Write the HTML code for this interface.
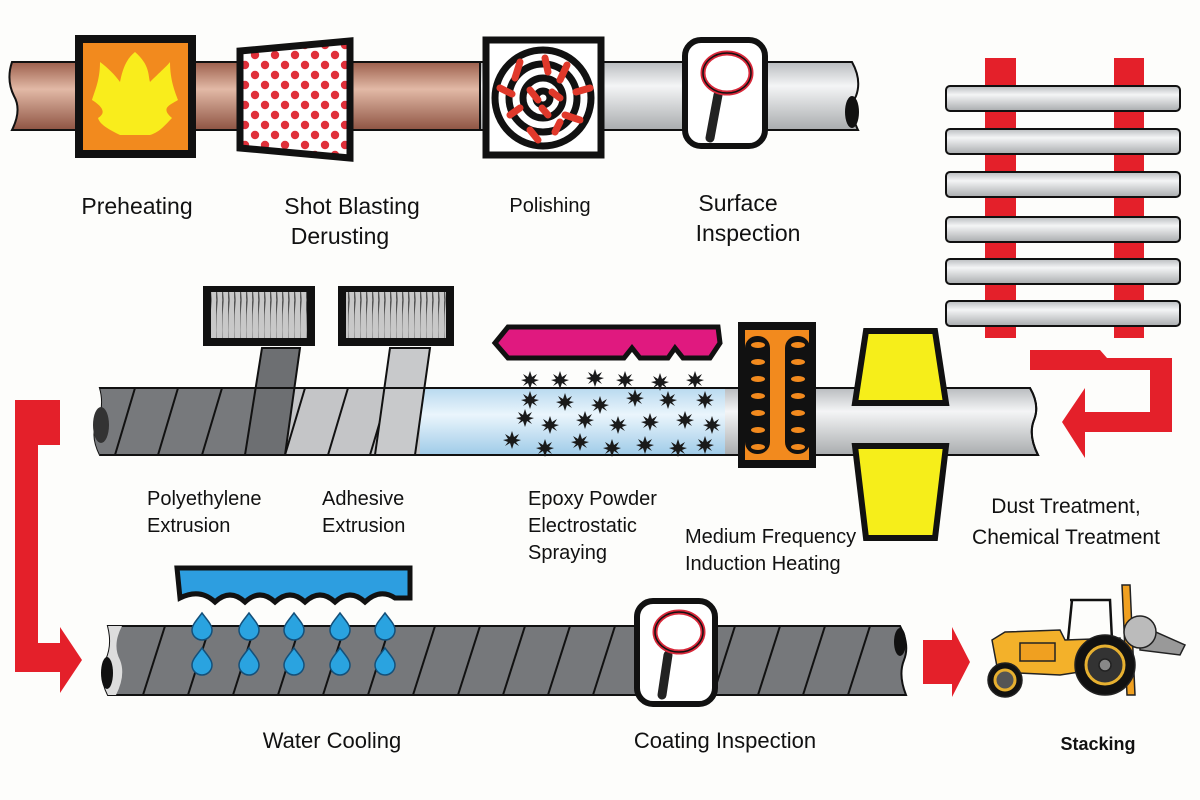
<!DOCTYPE html>
<html><head><meta charset="utf-8"><style>
html,body{margin:0;padding:0;background:#fdfdfb}
svg{display:block}
text{font-family:"Liberation Sans",sans-serif;fill:#111}
</style></head><body>
<svg width="1200" height="800" viewBox="0 0 1200 800" xmlns="http://www.w3.org/2000/svg">
<defs>
<linearGradient id="brown" x1="0" y1="0" x2="0" y2="1"><stop offset="0" stop-color="#9c5f4c"/><stop offset="0.4" stop-color="#e2b9a6"/><stop offset="1" stop-color="#8e5443"/></linearGradient>
<linearGradient id="silver" x1="0" y1="0" x2="0" y2="1"><stop offset="0" stop-color="#b9bcbf"/><stop offset="0.35" stop-color="#f4f5f6"/><stop offset="1" stop-color="#a9acae"/></linearGradient>
<linearGradient id="blue" x1="0" y1="0" x2="0" y2="1"><stop offset="0" stop-color="#b8d9ef"/><stop offset="0.4" stop-color="#eaf5fc"/><stop offset="1" stop-color="#9fcbe8"/></linearGradient>
<pattern id="dots" width="20" height="20" patternUnits="userSpaceOnUse"><rect width="20" height="20" fill="#fff"/><circle cx="5" cy="5" r="4.2" fill="#e0303a"/><circle cx="15" cy="15" r="4.2" fill="#e0303a"/></pattern>
<pattern id="coil" width="6" height="60" patternUnits="userSpaceOnUse"><rect width="6" height="60" fill="#c8c8c8"/><path d="M1 0 Q-2 30 1 60" stroke="#555" stroke-width="1.5" fill="none"/></pattern>
<g id="star"><polygon points="0,-9 2,-3 7,-6 4,-1 9,0 4,2 7,6 2,3 0,9 -2,3 -7,6 -4,2 -9,0 -4,-1 -7,-6 -2,-3" fill="#1a1a1a"/></g>
<g id="drop"><path d="M0,-12 C6,-4 10,0 10,5 A10 10 0 0 1 -10 5 C-10 0 -6,-4 0,-12Z" fill="#2aa3e0" stroke="#14507a" stroke-width="1.5"/></g>
</defs>

<!-- TOP PIPE -->
<path d="M12,62 L480,62 L480,130 L12,130 Q22,110 14,96 Q6,80 12,62Z" fill="url(#brown)" stroke="#111" stroke-width="2"/>
<path d="M480,62 L852,62 Q862,80 856,96 Q848,110 858,130 L480,130Z" fill="url(#silver)" stroke="#111" stroke-width="2"/>
<ellipse cx="852" cy="112" rx="7" ry="16" fill="#111"/>
<!-- preheat -->
<rect x="79" y="39" width="113" height="115" fill="#f28a1e" stroke="#111" stroke-width="8"/>
<path d="M135,52 C150,65 148,75 150,82 C160,72 168,65 170,62 C170,80 175,92 178,100 C170,105 160,108 172,118 C165,125 160,132 150,135 L120,135 C110,130 100,125 98,118 C108,112 100,105 92,100 C95,90 100,80 100,62 C108,68 115,75 120,82 C122,72 125,60 135,52Z" fill="#f9ed1c"/>
<!-- shot blasting -->
<polygon points="240,51 350,41 350,158 240,148" fill="url(#dots)" stroke="#111" stroke-width="7"/>
<!-- polishing -->
<rect x="486" y="40" width="115" height="115" fill="#fff" stroke="#111" stroke-width="7"/>
<g fill="none" stroke="#111" stroke-width="7"><circle cx="543" cy="98" r="48"/><circle cx="543" cy="98" r="34"/><circle cx="543" cy="98" r="20"/><circle cx="543" cy="98" r="7"/></g>
<g stroke="#e0392b" stroke-width="7" stroke-linecap="round">
<line x1="520" y1="62" x2="515" y2="78"/><line x1="545" y1="58" x2="548" y2="72"/><line x1="567" y1="65" x2="560" y2="80"/><line x1="500" y1="88" x2="512" y2="94"/><line x1="576" y1="92" x2="590" y2="88"/><line x1="510" y1="115" x2="520" y2="108"/><line x1="565" y1="115" x2="580" y2="120"/><line x1="530" y1="130" x2="538" y2="140"/><line x1="555" y1="132" x2="560" y2="122"/><line x1="530" y1="90" x2="538" y2="100"/><line x1="552" y1="92" x2="560" y2="98"/><line x1="542" y1="108" x2="548" y2="115"/></g>
<!-- surface inspection -->
<rect x="685" y="40" width="80" height="106" rx="16" fill="#fff" stroke="#111" stroke-width="6"/>
<line x1="718" y1="95" x2="710" y2="138" stroke="#222" stroke-width="9" stroke-linecap="round"/>
<ellipse cx="727" cy="73" rx="24" ry="20" fill="#fff" stroke="#d8283a" stroke-width="5"/>
<ellipse cx="727" cy="73" rx="24" ry="20" fill="none" stroke="#111" stroke-width="1.5"/>

<g font-size="23">
<text x="137" y="214" text-anchor="middle">Preheating</text>
<text x="352" y="214" text-anchor="middle">Shot Blasting</text>
<text x="340" y="244" text-anchor="middle">Derusting</text>
<text x="550" y="212" text-anchor="middle" font-size="20">Polishing</text>
<text x="738" y="211" text-anchor="middle">Surface</text>
<text x="748" y="241" text-anchor="middle">Inspection</text>
</g>

<!-- RIGHT STACK -->
<rect x="985" y="58" width="31" height="280" fill="#e4202a"/>
<rect x="1114" y="58" width="30" height="280" fill="#e4202a"/>
<g fill="url(#silver)" stroke="#111" stroke-width="2">
<rect x="946" y="86" width="234" height="25" rx="4"/>
<rect x="946" y="129" width="234" height="25" rx="4"/>
<rect x="946" y="172" width="234" height="25" rx="4"/>
<rect x="946" y="217" width="234" height="25" rx="4"/>
<rect x="946" y="259" width="234" height="25" rx="4"/>
<rect x="946" y="301" width="234" height="25" rx="4"/>
</g>
<!-- red return arrow -->
<path d="M1030,350 L1100,350 L1107,358 L1172,358 L1172,432 L1085,432 L1085,458 L1062,422 L1085,388 L1085,412 L1150,412 L1150,370 L1030,370Z" fill="#e4202a"/>

<!-- MIDDLE PIPE -->
<path d="M100,388 L1030,388 Q1040,405 1034,420 Q1028,435 1038,455 L100,455 Q90,435 98,422 Q105,405 100,388Z" fill="url(#silver)" stroke="#111" stroke-width="2"/>
<path d="M100,388 L290,388 L285,455 L100,455 Q90,435 98,422 Q105,405 100,388Z" fill="#77797c"/>
<rect x="285" y="388" width="135" height="67" fill="#c4c5c7"/>
<rect x="420" y="388" width="305" height="67" fill="url(#blue)"/>
<ellipse cx="101" cy="425" rx="8" ry="18" fill="#333"/>
<g stroke="#111" stroke-width="2">
<line x1="135" y1="388" x2="115" y2="455"/><line x1="178" y1="388" x2="158" y2="455"/><line x1="222" y1="388" x2="202" y2="455"/><line x1="265" y1="388" x2="245" y2="455"/><line x1="305" y1="388" x2="285" y2="455"/><line x1="348" y1="388" x2="328" y2="455"/><line x1="390" y1="388" x2="370" y2="455"/>
</g>
<!-- belts -->
<polygon points="262,348 300,348 285,455 245,455" fill="#6d6f72" stroke="#111" stroke-width="2"/>
<polygon points="390,348 430,348 415,455 375,455" fill="#c8c9cb" stroke="#111" stroke-width="2"/>
<path d="M100,388 L1030,388 Q1040,405 1034,420 Q1028,435 1038,455 L100,455" fill="none" stroke="#111" stroke-width="2"/>
<!-- extruders -->
<rect x="203" y="286" width="112" height="60" fill="#111"/><rect x="211" y="292" width="96" height="46" fill="url(#coil)"/>
<rect x="338" y="286" width="116" height="60" fill="#111"/><rect x="346" y="292" width="100" height="46" fill="url(#coil)"/>
<!-- epoxy hopper -->
<polygon points="495,343 508,327 718,327 720,343 710,358 683,358 675,348 668,358 640,358 632,348 624,358 508,358" fill="#e0197f" stroke="#111" stroke-width="5"/>
<g>
<use href="#star" x="530" y="380"/><use href="#star" x="560" y="380"/><use href="#star" x="595" y="378"/><use href="#star" x="625" y="380"/><use href="#star" x="660" y="382"/><use href="#star" x="695" y="380"/>
<use href="#star" x="530" y="400"/><use href="#star" x="565" y="402"/><use href="#star" x="600" y="405"/><use href="#star" x="635" y="398"/><use href="#star" x="668" y="400"/><use href="#star" x="705" y="400"/>
<use href="#star" x="525" y="418"/><use href="#star" x="550" y="425"/><use href="#star" x="585" y="420"/><use href="#star" x="618" y="425"/><use href="#star" x="650" y="422"/><use href="#star" x="685" y="420"/><use href="#star" x="712" y="425"/>
<use href="#star" x="512" y="440"/><use href="#star" x="545" y="448"/><use href="#star" x="580" y="442"/><use href="#star" x="612" y="448"/><use href="#star" x="645" y="445"/><use href="#star" x="678" y="448"/><use href="#star" x="705" y="445"/>
</g>
<!-- induction -->
<rect x="738" y="322" width="78" height="146" fill="#111"/>
<rect x="745" y="330" width="64" height="130" fill="#f28a1e"/>
<g fill="#111"><rect x="745" y="336" width="25" height="118" rx="12"/><rect x="785" y="336" width="25" height="118" rx="12"/></g>
<g fill="#f28a1e">
<ellipse cx="758" cy="345" rx="7" ry="3"/><ellipse cx="758" cy="362" rx="7" ry="3"/><ellipse cx="758" cy="379" rx="7" ry="3"/><ellipse cx="758" cy="396" rx="7" ry="3"/><ellipse cx="758" cy="413" rx="7" ry="3"/><ellipse cx="758" cy="430" rx="7" ry="3"/><ellipse cx="758" cy="447" rx="7" ry="3"/>
<ellipse cx="798" cy="345" rx="7" ry="3"/><ellipse cx="798" cy="362" rx="7" ry="3"/><ellipse cx="798" cy="379" rx="7" ry="3"/><ellipse cx="798" cy="396" rx="7" ry="3"/><ellipse cx="798" cy="413" rx="7" ry="3"/><ellipse cx="798" cy="430" rx="7" ry="3"/><ellipse cx="798" cy="447" rx="7" ry="3"/>
</g>
<!-- yellow trapezoids -->
<polygon points="866,331 935,331 946,403 855,403" fill="#f6ee1a" stroke="#111" stroke-width="6"/>
<polygon points="855,446 946,446 935,538 866,538" fill="#f6ee1a" stroke="#111" stroke-width="6"/>

<g font-size="20">
<text x="147" y="505">Polyethylene</text><text x="147" y="532">Extrusion</text>
<text x="322" y="505">Adhesive</text><text x="322" y="532">Extrusion</text>
<text x="528" y="505">Epoxy Powder</text><text x="528" y="532">Electrostatic</text><text x="528" y="559">Spraying</text>
<text x="685" y="543">Medium Frequency</text><text x="685" y="570">Induction Heating</text>
<text x="1066" y="513" text-anchor="middle" font-size="21">Dust Treatment,</text>
<text x="1066" y="544" text-anchor="middle" font-size="21">Chemical Treatment</text>
</g>

<!-- left red L arrow -->
<path d="M15,400 L60,400 L60,445 L38,445 L38,643 L60,643 L60,627 L82,660 L60,693 L60,672 L15,672Z" fill="#e4202a"/>

<!-- BOTTOM PIPE -->
<path d="M108,626 L900,626 Q910,645 904,660 Q898,675 906,695 L108,695 Q98,675 106,660 Q113,645 108,626Z" fill="#76787b" stroke="#111" stroke-width="2"/>
<path d="M108,626 L122,626 Q112,645 120,660 Q126,675 116,695 L108,695 Q98,675 106,660 Q113,645 108,626Z" fill="#ddd"/>
<ellipse cx="107" cy="673" rx="6" ry="16" fill="#111"/>
<g stroke="#111" stroke-width="2">
<line x1="165" y1="626" x2="143" y2="695"/><line x1="210" y1="626" x2="188" y2="695"/><line x1="255" y1="626" x2="233" y2="695"/><line x1="300" y1="626" x2="278" y2="695"/><line x1="345" y1="626" x2="323" y2="695"/><line x1="390" y1="626" x2="368" y2="695"/><line x1="435" y1="626" x2="413" y2="695"/><line x1="480" y1="626" x2="458" y2="695"/><line x1="525" y1="626" x2="503" y2="695"/><line x1="570" y1="626" x2="548" y2="695"/><line x1="615" y1="626" x2="593" y2="695"/><line x1="735" y1="626" x2="713" y2="695"/><line x1="780" y1="626" x2="758" y2="695"/><line x1="825" y1="626" x2="803" y2="695"/><line x1="870" y1="626" x2="848" y2="695"/>
</g>
<ellipse cx="900" cy="642" rx="6" ry="14" fill="#111"/>
<!-- water cooling -->
<path d="M177,568 L410,568 L410,598 L395,598 Q380,588 365,602 Q350,588 335,602 Q320,588 305,602 Q290,588 275,602 Q260,588 245,602 Q230,588 215,602 Q200,588 180,598Z" fill="#2d9ee0" stroke="#111" stroke-width="5"/>
<g><use href="#drop" x="202" y="625"/><use href="#drop" x="249" y="625"/><use href="#drop" x="294" y="625"/><use href="#drop" x="340" y="625"/><use href="#drop" x="385" y="625"/>
<use href="#drop" x="202" y="660"/><use href="#drop" x="249" y="660"/><use href="#drop" x="294" y="660"/><use href="#drop" x="340" y="660"/><use href="#drop" x="385" y="660"/></g>
<!-- coating inspection -->
<rect x="637" y="601" width="78" height="103" rx="16" fill="#fff" stroke="#111" stroke-width="6"/>
<line x1="668" y1="655" x2="662" y2="695" stroke="#222" stroke-width="9" stroke-linecap="round"/>
<ellipse cx="679" cy="632" rx="24" ry="20" fill="#fff" stroke="#d8283a" stroke-width="5"/>
<ellipse cx="679" cy="632" rx="24" ry="20" fill="none" stroke="#111" stroke-width="1.5"/>
<!-- red right arrow -->
<polygon points="923,640 952,640 952,627 970,662 952,697 952,684 923,684" fill="#e4202a"/>
<!-- tractor -->
<g stroke="#222" stroke-width="1.5">
<polygon points="1122,585 1130,585 1135,695 1127,695" fill="#f0a020"/>
<polygon points="1140,625 1185,645 1180,655 1140,650" fill="#999"/>
<circle cx="1140" cy="632" r="16" fill="#bbb"/>
<path d="M1070,600 L1110,600 L1112,640 M1072,600 L1068,640" fill="none" stroke="#111" stroke-width="2.5"/>
<polygon points="992,640 1005,632 1060,630 1065,640 1120,638 1125,665 1060,675 998,672" fill="#f3b12a"/>
<rect x="1020" y="643" width="35" height="18" fill="#f0a020"/>
<circle cx="1105" cy="665" r="30" fill="#111"/><circle cx="1105" cy="665" r="19" fill="#333" stroke="#e6b030" stroke-width="3"/><circle cx="1105" cy="665" r="6" fill="#888"/>
<circle cx="1005" cy="680" r="17" fill="#111"/><circle cx="1005" cy="680" r="10" fill="#555" stroke="#e6b030" stroke-width="3"/>
</g>

<g font-size="22">
<text x="332" y="748" text-anchor="middle">Water Cooling</text>
<text x="725" y="748" text-anchor="middle">Coating Inspection</text>
<text x="1098" y="750" text-anchor="middle" font-size="18" font-weight="bold">Stacking</text>
</g>
</svg>
</body></html>
